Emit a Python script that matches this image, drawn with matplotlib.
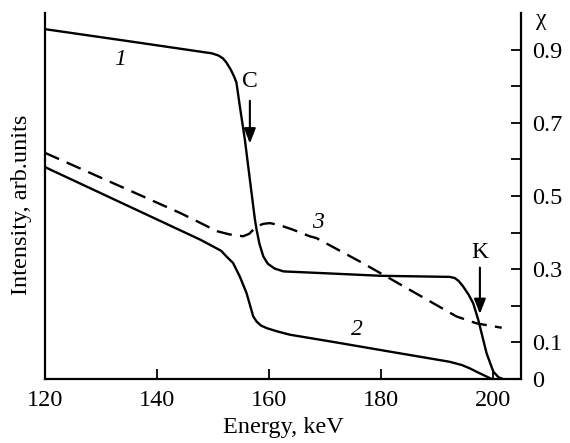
import matplotlib
matplotlib.use("Agg")
import matplotlib.pyplot as plt

plt.rcParams['font.family'] = ['Liberation Serif', 'DejaVu Serif']

# curve 1
e1 = [120, 135, 149.8, 151.0, 151.8, 152.4, 153.2, 153.8, 154.2, 154.8, 155.7,
      156.6, 157.5, 157.8, 158.3, 159.0, 159.8, 161, 162.6, 170, 180, 192.3,
      193.2, 193.9, 194.7, 195.7, 196.5, 197.4, 198.9, 200.1, 201, 201.8]
i1 = [0.956, 0.923, 0.890, 0.884, 0.876, 0.865, 0.845, 0.826, 0.81, 0.746, 0.655,
      0.545, 0.436, 0.408, 0.37, 0.335, 0.315, 0.302, 0.294, 0.289, 0.282, 0.279,
      0.276, 0.268, 0.253, 0.230, 0.207, 0.162, 0.070, 0.02, 0.005, 0.0]

# curve 2
e2 = [120, 147.7, 150.05, 151.5, 152.4, 153.6, 154.8, 156.0, 157.2, 157.8, 158.6,
      159.6, 161.5, 163.75, 172, 180, 192.3, 194.5, 195.9, 197.2, 198.3, 199.8]
i2 = [0.579, 0.381, 0.362, 0.350, 0.335, 0.317, 0.28, 0.235, 0.171, 0.157, 0.146,
      0.139, 0.130, 0.121, 0.10, 0.079, 0.047, 0.038, 0.029, 0.019, 0.011, 0.0]

# curve 3 (dashed)
e3 = [120, 144.1, 146.5, 150.7, 153.0, 155.4, 156.5, 157.8, 159, 160.2, 162,
      164.3, 167.3, 168.5, 176.25, 181, 193.5, 197.1, 201.6]
i3 = [0.618, 0.454, 0.436, 0.404, 0.395, 0.390, 0.397, 0.417, 0.424, 0.426, 0.420,
      0.408, 0.39, 0.385, 0.321, 0.28, 0.171, 0.152, 0.14]

xticks = [120, 140, 160, 180, 200]
chi_major = [0, 0.1, 0.3, 0.5, 0.7, 0.9]
chi_minor = [0.2, 0.4, 0.6, 0.8]

fig = plt.figure(figsize=(5.7, 4.43), dpi=100)
ax = fig.add_axes([0.079, 0.1445, 0.8346, 0.826])

lw = 1.7
ax.plot(e1, i1, color='black', lw=lw, solid_joinstyle='round')
ax.plot(e2, i2, color='black', lw=lw, solid_joinstyle='round')
ax.plot(e3, i3, color='black', lw=lw, dashes=(6.5, 3.5))

ax.set_xlim(120, 205)
ax.set_ylim(0, 1.0)

ax.spines['top'].set_visible(False)
for s in ['left', 'right', 'bottom']:
    ax.spines[s].set_linewidth(1.6)

ax.set_xticks(xticks)
ax.tick_params(axis='x', direction='in', length=7.5, width=1.3, labelsize=17.5, pad=8)
ax.yaxis.tick_right()
ax.set_yticks(chi_major)
ax.set_yticklabels(['0', '0.1', '0.3', '0.5', '0.7', '0.9'])
ax.set_yticks(chi_minor, minor=True)
ax.tick_params(axis='y', which='both', direction='in', length=7.5, width=1.3,
               labelsize=17.5, pad=8)

# annotations
ax.text(133.4, 0.874, '1', style='italic', fontsize=17, ha='center', va='center')
ax.text(175.7, 0.134, '2', style='italic', fontsize=17, ha='center', va='center')
ax.text(168.8, 0.427, '3', style='italic', fontsize=17, ha='center', va='center')
ax.text(156.6, 0.814, 'C', fontsize=17, ha='center', va='center')
ax.text(197.7, 0.345, 'K', fontsize=17, ha='center', va='center')
arrow = dict(arrowstyle='-|>,head_length=0.9,head_width=0.35', color='black', lw=1.5)
ax.annotate('', xy=(156.6, 0.636), xytext=(156.6, 0.768), arrowprops=arrow)
ax.annotate('', xy=(197.7, 0.17), xytext=(197.7, 0.312), arrowprops=arrow)

fig.text(541.7 / 570, 1 - 20 / 443, 'χ', fontsize=17, ha='center', va='center')
fig.text(282.9 / 570, 1 - 428 / 443, 'Energy, keV', fontsize=17.5, ha='center', va='center')
fig.text(22 / 570, 1 - 205 / 443, 'Intensity, arb.units', fontsize=17.5,
         rotation=90, ha='center', va='center')

fig.savefig('out.png', dpi=100)
